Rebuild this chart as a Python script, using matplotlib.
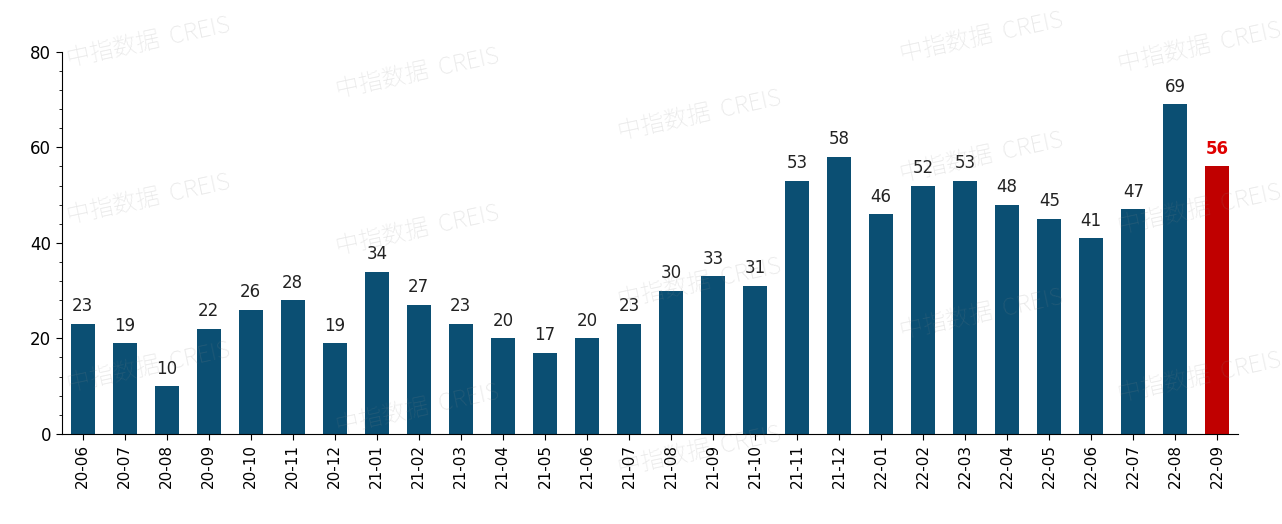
import matplotlib.pyplot as plt
from matplotlib.ticker import MultipleLocator
from matplotlib import font_manager as fm

months = ["20-06","20-07","20-08","20-09","20-10","20-11","20-12",
          "21-01","21-02","21-03","21-04","21-05","21-06","21-07","21-08","21-09","21-10","21-11","21-12",
          "22-01","22-02","22-03","22-04","22-05","22-06","22-07","22-08","22-09"]
values = [23,19,10,22,26,28,19,34,27,23,20,17,20,23,30,33,31,53,58,46,52,53,48,45,41,47,69,56]

cjk = None
for f in fm.fontManager.ttflist:
    if 'CJK' in f.name and ('SC' in f.name or cjk is None):
        cjk = f.fname
        if 'SC' in f.name:
            break
cjkprop = fm.FontProperties(fname=cjk) if cjk else fm.FontProperties(family='Noto Sans CJK SC')

fig = plt.figure(figsize=(12.82, 5.24), dpi=100)
ax = fig.add_axes([0.048, 0.172, 0.918, 0.729])
colors = ["#0B4F73"] * (len(values) - 1) + ["#C00000"]
x = range(len(values))
ax.bar(x, values, width=0.57, color=colors, zorder=2)
for i, v in enumerate(values):
    ax.text(i, v + 1.8, str(v), ha='center', va='bottom', fontsize=12,
            color="#E00000" if i == len(values) - 1 else "#222222",
            fontweight='bold' if i == len(values) - 1 else 'normal')
ax.set_xlim(-0.5, len(values) - 0.5)
ax.set_ylim(0, 80)
ax.yaxis.set_major_locator(MultipleLocator(20))
ax.yaxis.set_minor_locator(MultipleLocator(4))
ax.set_xticks(list(x))
ax.set_xticklabels(months, rotation=90, fontsize=11)
ax.tick_params(axis='y', labelsize=12, length=4)
ax.tick_params(axis='y', which='minor', length=2)
ax.tick_params(axis='x', length=4)
for s in ['top', 'right']:
    ax.spines[s].set_visible(False)

wm = [(0.05,0.92),(0.26,0.86),(0.48,0.78),(0.05,0.62),(0.26,0.56),(0.48,0.46),(0.70,0.70),
      (0.70,0.40),(0.05,0.30),(0.26,0.22),(0.48,0.14),(0.70,0.93),(0.87,0.91),(0.87,0.60),(0.87,0.28)]
for (wx, wy) in wm:
    fig.text(wx, wy, "中指数据  CREIS", fontsize=17, color="#888888", alpha=0.2,
             rotation=12, ha='left', va='center', fontproperties=cjkprop)
fig.savefig("out.png", dpi=100)
